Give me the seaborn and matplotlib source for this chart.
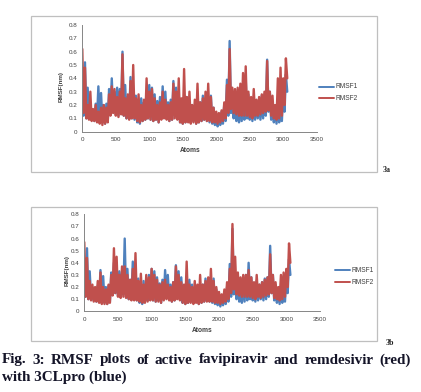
import matplotlib
matplotlib.use("Agg")
import matplotlib.pyplot as plt
import seaborn as sns
import pandas as pd
from matplotlib.patches import Rectangle
from matplotlib.lines import Line2D

# ---------------- data (20-atom steps) ----------------
atoms = list(range(0, 3061, 20))

rmsf1_3clpro = [
    0.30, 0.12, 0.52, 0.10, 0.33, 0.11, 0.20, 0.09, 0.16, 0.08,
    0.21, 0.10, 0.34, 0.08, 0.29, 0.07, 0.20, 0.06, 0.21, 0.08,
    0.32, 0.14, 0.40, 0.15, 0.30, 0.13, 0.33, 0.12, 0.32, 0.14,
    0.60, 0.12, 0.35, 0.10, 0.26, 0.11, 0.41, 0.10, 0.30, 0.09,
    0.27, 0.07, 0.18, 0.06, 0.25, 0.08, 0.22, 0.09, 0.30, 0.10,
    0.35, 0.09, 0.33, 0.08, 0.28, 0.09, 0.23, 0.07, 0.26, 0.10,
    0.34, 0.12, 0.30, 0.10, 0.22, 0.08, 0.24, 0.09, 0.38, 0.12,
    0.33, 0.10, 0.28, 0.07, 0.20, 0.06, 0.22, 0.07, 0.26, 0.08,
    0.22, 0.07, 0.20, 0.08, 0.18, 0.06, 0.20, 0.07, 0.22, 0.08,
    0.27, 0.09, 0.24, 0.08, 0.25, 0.07, 0.27, 0.06, 0.18, 0.05,
    0.12, 0.04, 0.10, 0.05, 0.15, 0.06, 0.20, 0.08, 0.39, 0.12,
    0.68, 0.14, 0.30, 0.10, 0.25, 0.08, 0.20, 0.07, 0.25, 0.08,
    0.30, 0.09, 0.40, 0.10, 0.28, 0.09, 0.22, 0.08, 0.25, 0.09,
    0.22, 0.10, 0.24, 0.09, 0.27, 0.10, 0.28, 0.12, 0.54, 0.15,
    0.30, 0.09, 0.22, 0.07, 0.18, 0.06, 0.20, 0.07, 0.25, 0.08,
    0.30, 0.15, 0.43, 0.30,
]

rmsf2_favipiravir = [
    0.62, 0.14, 0.48, 0.10, 0.20, 0.09, 0.30, 0.08, 0.17, 0.08,
    0.20, 0.07, 0.15, 0.06, 0.18, 0.05, 0.20, 0.06, 0.18, 0.07,
    0.28, 0.12, 0.34, 0.14, 0.32, 0.12, 0.26, 0.11, 0.30, 0.13,
    0.58, 0.12, 0.25, 0.10, 0.28, 0.09, 0.38, 0.10, 0.50, 0.10,
    0.25, 0.08, 0.28, 0.07, 0.20, 0.08, 0.24, 0.09, 0.40, 0.10,
    0.30, 0.09, 0.32, 0.08, 0.25, 0.09, 0.20, 0.07, 0.22, 0.09,
    0.30, 0.10, 0.24, 0.09, 0.20, 0.08, 0.22, 0.09, 0.36, 0.10,
    0.30, 0.09, 0.40, 0.07, 0.25, 0.06, 0.47, 0.07, 0.26, 0.07,
    0.30, 0.06, 0.20, 0.07, 0.24, 0.06, 0.36, 0.07, 0.22, 0.08,
    0.25, 0.09, 0.30, 0.08, 0.36, 0.08, 0.26, 0.07, 0.18, 0.07,
    0.15, 0.06, 0.14, 0.07, 0.16, 0.08, 0.22, 0.10, 0.35, 0.14,
    0.62, 0.17, 0.33, 0.14, 0.32, 0.13, 0.33, 0.12, 0.36, 0.12,
    0.44, 0.12, 0.49, 0.12, 0.30, 0.11, 0.26, 0.10, 0.32, 0.12,
    0.24, 0.12, 0.26, 0.13, 0.28, 0.14, 0.30, 0.15, 0.53, 0.16,
    0.30, 0.12, 0.27, 0.10, 0.20, 0.09, 0.40, 0.10, 0.48, 0.12,
    0.40, 0.20, 0.55, 0.40,
]

rmsf2_remdesivir = [
    0.57, 0.12, 0.44, 0.10, 0.25, 0.09, 0.22, 0.08, 0.20, 0.08,
    0.25, 0.07, 0.32, 0.06, 0.20, 0.06, 0.18, 0.06, 0.22, 0.07,
    0.30, 0.13, 0.52, 0.15, 0.45, 0.12, 0.30, 0.11, 0.37, 0.12,
    0.37, 0.11, 0.30, 0.10, 0.26, 0.09, 0.35, 0.09, 0.48, 0.09,
    0.25, 0.08, 0.31, 0.07, 0.22, 0.07, 0.30, 0.08, 0.28, 0.09,
    0.35, 0.09, 0.30, 0.08, 0.26, 0.08, 0.22, 0.07, 0.24, 0.09,
    0.26, 0.10, 0.22, 0.09, 0.20, 0.08, 0.24, 0.09, 0.37, 0.10,
    0.30, 0.09, 0.24, 0.07, 0.22, 0.06, 0.41, 0.07, 0.22, 0.07,
    0.20, 0.06, 0.25, 0.07, 0.22, 0.06, 0.30, 0.07, 0.22, 0.08,
    0.25, 0.08, 0.28, 0.08, 0.35, 0.08, 0.25, 0.07, 0.20, 0.07,
    0.16, 0.06, 0.14, 0.07, 0.18, 0.08, 0.24, 0.10, 0.35, 0.15,
    0.72, 0.18, 0.45, 0.14, 0.32, 0.13, 0.28, 0.12, 0.30, 0.12,
    0.30, 0.12, 0.34, 0.12, 0.28, 0.11, 0.24, 0.10, 0.30, 0.12,
    0.22, 0.11, 0.24, 0.12, 0.26, 0.13, 0.28, 0.14, 0.47, 0.15,
    0.30, 0.11, 0.24, 0.10, 0.20, 0.09, 0.30, 0.10, 0.32, 0.12,
    0.35, 0.20, 0.56, 0.40,
]

x_ticks = [0, 500, 1000, 1500, 2000, 2500, 3000, 3500]
y_ticks = [0, 0.1, 0.2, 0.3, 0.4, 0.5, 0.6, 0.7, 0.8]
y_tick_labels = ["0", "0.1", "0.2", "0.3", "0.4", "0.5", "0.6", "0.7", "0.8"]
series_names = ["RMSF1", "RMSF2"]
panel_tags = ["3a", "3b"]
caption_line1 = "Fig. 3: RMSF plots of active favipiravir and remdesivir (red)"
caption_line2 = "with 3CLpro (blue)"

# ---------------- figure ----------------
sns.set_style("white")
plt.rcParams["font.family"] = ["Liberation Sans", "DejaVu Sans"]

W, H = 421, 392
fig = plt.figure(figsize=(W / 100, H / 100), dpi=100)
fig.patch.set_facecolor("white")

BLUE = "#4F81BD"
RED = "#C0504D"
AXC = "#868686"
TXT = "#404040"
LW = 1.7


def fx(px):
    return px / W


def fy(py):
    return 1 - py / H


def add_panel(ax_box, frame_box, red_vals, legend_pos, ylab_pos, xlab_pos, tag_pos, tag):
    l, t, r, b = frame_box
    fig.patches.append(Rectangle((fx(l), fy(b)), fx(r - l), (b - t) / H,
                                 transform=fig.transFigure, fill=False,
                                 edgecolor="#BFBFBF", lw=0.9, zorder=0))
    al, at, ar, ab = ax_box
    ax = fig.add_axes([fx(al), fy(ab), fx(ar - al), (ab - at) / H])
    df = pd.DataFrame({"atoms": atoms, "RMSF1": rmsf1_3clpro, "RMSF2": red_vals})
    sns.lineplot(data=df, x="atoms", y="RMSF1", ax=ax, color=BLUE, lw=LW)
    sns.lineplot(data=df, x="atoms", y="RMSF2", ax=ax, color=RED, lw=LW)
    ax.set_xlim(0, 3500)
    ax.set_ylim(0, 0.8)
    ax.set_xticks(x_ticks)
    ax.set_xticklabels([str(v) for v in x_ticks])
    ax.set_yticks(y_ticks)
    ax.set_yticklabels(y_tick_labels)
    ax.tick_params(axis="both", labelsize=4.5, colors=AXC, labelcolor=TXT,
                   length=2, width=0.6, pad=1.5, direction="out")
    ax.tick_params(axis="x", pad=2)
    for s in ["top", "right"]:
        ax.spines[s].set_visible(False)
    for s in ["left", "bottom"]:
        ax.spines[s].set_color(AXC)
        ax.spines[s].set_linewidth(0.7)
    ax.set_xlabel("")
    ax.set_ylabel("")
    ax.set_facecolor("none")
    fig.text(fx(xlab_pos[0]), fy(xlab_pos[1]), "Atoms", ha="center", va="center",
             fontsize=4.8, fontweight="bold", color=TXT)
    fig.text(fx(ylab_pos[0]), fy(ylab_pos[1]), "RMSF(nm)", ha="center", va="center",
             rotation=90, fontsize=4.5, fontweight="bold", color=TXT)
    lx0, lx1, ly1, ly2 = legend_pos
    for yy, c, name in [(ly1, BLUE, series_names[0]), (ly2, RED, series_names[1])]:
        fig.lines.append(Line2D([fx(lx0), fx(lx1)], [fy(yy), fy(yy)],
                                transform=fig.transFigure, color=c, lw=1.4))
        fig.text(fx(lx1 + 1), fy(yy), name, ha="left", va="center",
                 fontsize=4.8, color=TXT)
    fig.text(fx(tag_pos[0]), fy(tag_pos[1]), tag, ha="left", va="center",
             fontsize=5.8, fontweight="bold", family="Liberation Serif", color="#222222")
    return ax


add_panel((82.3, 25, 316.7, 131.7), (31, 16, 377, 172.3), rmsf2_favipiravir,
          (319, 334, 87, 98), (61, 86), (190.7, 151), (383, 170), panel_tags[0])
add_panel((84.3, 214.3, 320, 311.3), (31, 206.7, 377, 340.7), rmsf2_remdesivir,
          (335, 350, 270, 282.3), (66.7, 270), (202.7, 330), (386, 343), panel_tags[1])

# caption (line 1 justified across the width)
cap_kw = dict(fontsize=10.9, fontweight="bold", family="Liberation Serif",
              color="#141428", va="center")
words = caption_line1.split(" ")
renderer = fig.canvas.get_renderer()
widths = []
tmp = []
for w_ in words:
    t = fig.text(0, 0, w_, **cap_kw)
    widths.append(t.get_window_extent(renderer).width)
    tmp.append(t)
for t in tmp:
    t.remove()
x_start, x_end = 2, 410.5
gap = (x_end - x_start - sum(widths)) / (len(words) - 1)
xpos = x_start
for w_, wd in zip(words, widths):
    fig.text(fx(xpos), fy(360), w_, ha="left", **cap_kw)
    xpos += wd + gap
fig.text(fx(2), fy(377.7), caption_line2, ha="left", **cap_kw)

fig.savefig("out.png", dpi=100, facecolor="white")
